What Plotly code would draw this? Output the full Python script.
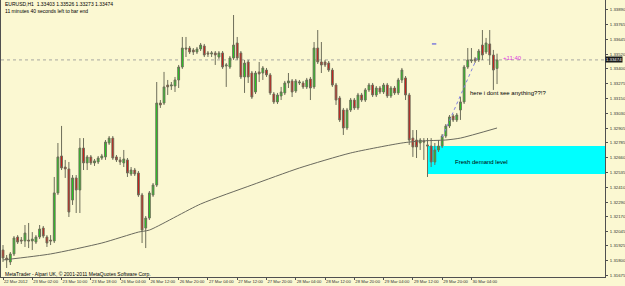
import plotly.graph_objects as go

bars = list(range(136))

opens = [1.31891,1.31824,1.31791,1.31858,1.31999,1.31974,1.31966,1.31974,1.31966,1.31957,
         1.31999,1.32074,1.31999,1.31974,1.31966,1.32366,1.32674,1.32582,1.32566,1.32307,
         1.32491,1.32391,1.32740,1.32616,1.32666,1.32616,1.32624,1.32657,1.32666,1.32782,
         1.32823,1.32666,1.32641,1.32616,1.32641,1.32524,1.32557,1.32532,1.32349,1.32074,
         1.32157,1.32349,1.32432,1.33115,1.33115,1.33265,1.33257,1.33257,1.33307,1.33415,
         1.33573,1.33573,1.33557,1.33540,1.33565,1.33590,1.33532,1.33523,1.33532,1.33498,
         1.33532,1.33423,1.33415,1.33490,1.33615,1.33532,1.33332,1.33457,1.33365,1.33207,
         1.33374,1.33365,1.33390,1.33349,1.33190,1.33124,1.33174,1.33199,1.33282,1.33299,
         1.33215,1.33282,1.33282,1.33249,1.33315,1.33249,1.33573,1.33457,1.33457,1.33448,
         1.33390,1.33265,1.33157,1.33057,1.32907,1.33057,1.33140,1.33074,1.33182,1.33140,
         1.33224,1.33265,1.33182,1.33240,1.33207,1.33265,1.33174,1.33240,1.33199,1.33307,
         1.33324,1.33182,1.32823,1.32807,1.32782,1.32799,1.32766,1.32757,1.32624,1.32724,
         1.32757,1.32840,1.32924,1.33007,1.32974,1.33057,1.33124,1.33415,1.33465,1.33482,
         1.33474,1.33598,1.33540,1.33607,1.33515,1.33403]
highs = [1.31932,1.31849,1.31874,1.32007,1.32015,1.31999,1.32099,1.32116,1.32040,1.32015,
         1.32099,1.32091,1.32015,1.32015,1.32499,1.32782,1.32924,1.32641,1.32624,1.32515,
         1.32515,1.32823,1.32823,1.32682,1.32682,1.32649,1.32674,1.32691,1.32807,1.32840,
         1.32840,1.32682,1.32666,1.32724,1.32657,1.32582,1.32574,1.32549,1.32366,1.32174,
         1.32382,1.32449,1.33290,1.33140,1.33374,1.33307,1.33290,1.33332,1.33432,1.33665,
         1.33665,1.33590,1.33573,1.33582,1.33615,1.33607,1.33548,1.33548,1.33548,1.33548,
         1.33548,1.33448,1.33507,1.33848,1.33665,1.33548,1.33474,1.33474,1.33382,1.33382,
         1.33457,1.33423,1.33407,1.33365,1.33207,1.33199,1.33249,1.33299,1.33365,1.33315,
         1.33315,1.33307,1.33299,1.33324,1.33332,1.33623,1.33723,1.33623,1.33474,1.33465,
         1.33407,1.33282,1.33174,1.33074,1.33074,1.33157,1.33157,1.33199,1.33199,1.33240,
         1.33282,1.33282,1.33257,1.33257,1.33282,1.33282,1.33257,1.33257,1.33324,1.33407,
         1.33340,1.33199,1.32890,1.32890,1.32823,1.32823,1.32823,1.32823,1.32782,1.32807,
         1.32857,1.32940,1.33015,1.33024,1.33032,1.33165,1.33432,1.33573,1.33573,1.33498,
         1.33565,1.33723,1.33657,1.33723,1.33557,1.33526]
lows = [1.31791,1.31741,1.31766,1.31841,1.31941,1.31941,1.31916,1.31907,1.31891,1.31941,
        1.31982,1.31990,1.31916,1.31932,1.31949,1.32349,1.32557,1.32491,1.32166,1.32266,
        1.32199,1.32199,1.32557,1.32557,1.32599,1.32591,1.32607,1.32641,1.32641,1.32766,
        1.32641,1.32624,1.32599,1.32582,1.32499,1.32507,1.32507,1.32333,1.31949,1.31907,
        1.32141,1.32333,1.32416,1.33074,1.33099,1.33182,1.33224,1.33207,1.33240,1.33399,
        1.33498,1.33523,1.33515,1.33523,1.33548,1.33498,1.33498,1.33498,1.33432,1.33482,
        1.33399,1.33249,1.33399,1.33474,1.33474,1.33315,1.33199,1.33282,1.33149,1.33190,
        1.33290,1.33307,1.33332,1.33182,1.33107,1.33107,1.33140,1.33182,1.33240,1.33165,
        1.33199,1.33265,1.33232,1.33232,1.33140,1.33232,1.33440,1.33365,1.33415,1.33374,
        1.33249,1.33099,1.32957,1.32849,1.32890,1.33040,1.33057,1.33057,1.33124,1.33124,
        1.33207,1.33165,1.33165,1.33190,1.33190,1.33157,1.33157,1.33182,1.33182,1.33282,
        1.33140,1.32766,1.32666,1.32657,1.32724,1.32641,1.32499,1.32582,1.32599,1.32707,
        1.32740,1.32823,1.32907,1.32957,1.32957,1.32974,1.33107,1.33399,1.33448,1.33448,
        1.33457,1.33474,1.33523,1.33432,1.33224,1.33273]
closes = [1.31824,1.31808,1.31858,1.31991,1.31957,1.31966,1.32032,1.31966,1.31982,1.31999,
          1.32066,1.32007,1.31949,1.31966,1.32366,1.32666,1.32574,1.32566,1.32207,1.32491,
          1.32391,1.32740,1.32616,1.32666,1.32616,1.32633,1.32657,1.32674,1.32790,1.32823,
          1.32657,1.32641,1.32624,1.32649,1.32532,1.32557,1.32524,1.32349,1.32057,1.32157,
          1.32366,1.32432,1.33115,1.33099,1.33249,1.33249,1.33265,1.33307,1.33415,1.33573,
          1.33565,1.33540,1.33540,1.33565,1.33598,1.33515,1.33523,1.33532,1.33515,1.33532,
          1.33415,1.33432,1.33490,1.33598,1.33490,1.33332,1.33448,1.33332,1.33165,1.33365,
          1.33357,1.33407,1.33349,1.33199,1.33124,1.33182,1.33207,1.33282,1.33299,1.33207,
          1.33299,1.33290,1.33249,1.33307,1.33240,1.33573,1.33457,1.33432,1.33432,1.33390,
          1.33265,1.33140,1.32974,1.32907,1.33057,1.33140,1.33074,1.33182,1.33140,1.33224,
          1.33265,1.33182,1.33240,1.33207,1.33265,1.33174,1.33240,1.33199,1.33307,1.33390,
          1.33182,1.32807,1.32749,1.32749,1.32807,1.32790,1.32757,1.32624,1.32724,1.32757,
          1.32840,1.32924,1.32999,1.32974,1.33015,1.33124,1.33415,1.33474,1.33474,1.33465,
          1.33548,1.33515,1.33615,1.33515,1.33390,1.33474]

ma_bars = [0, 13, 27, 37, 40, 54, 68, 81, 95, 109, 114, 121, 125, 135]
ma_vals = [1.31808, 1.31858, 1.31949, 1.32040, 1.32057, 1.32274, 1.32432, 1.32574,
           1.32699, 1.32782, 1.32799, 1.32807, 1.32823, 1.32907]

x_tick_bars = [0, 8, 16, 24, 32, 40, 48, 56, 64, 72, 80, 88, 96, 104, 112, 120, 128]
x_tick_text = ["22 Mar 2012", "23 Mar 02:00", "23 Mar 10:00", "23 Mar 18:00", "26 Mar 04:00",
               "26 Mar 12:00", "26 Mar 20:00", "27 Mar 04:00", "27 Mar 12:00", "27 Mar 20:00",
               "28 Mar 04:00", "28 Mar 12:00", "28 Mar 20:00", "29 Mar 04:00", "29 Mar 12:00",
               "29 Mar 20:00", "30 Mar 04:00"]
y_tick_vals = [1.33890, 1.33765, 1.33645, 1.33520, 1.33400, 1.33275, 1.33150, 1.33030,
               1.32905, 1.32785, 1.32660, 1.32535, 1.32410, 1.32290, 1.32170, 1.32045,
               1.31925, 1.31800, 1.31675]

demand_low, demand_high, demand_start = 1.32524, 1.32757, 116.1
trend_bars = [120, 129.5]
trend_vals = [1.32830, 1.33490]
dash_bars = [117.2, 118.4]
dash_vals = [1.33607, 1.33607]
last_price = 1.33474

BG = "#FBF8D2"
FONT = "Liberation Sans, Arial, sans-serif"
SMALL = "Liberation Sans Narrow, Liberation Sans, Arial, sans-serif"

fig = go.Figure()
fig.add_trace(go.Candlestick(
    x=bars, open=opens, high=highs, low=lows, close=closes,
    increasing=dict(fillcolor="#16D916", line=dict(color="#6E6E5A", width=1)),
    decreasing=dict(fillcolor="#D91010", line=dict(color="#6E6E5A", width=1)),
    whiskerwidth=0, showlegend=False, hoverinfo="skip"))
fig.add_trace(go.Scatter(x=ma_bars, y=ma_vals, mode="lines", line=dict(color="#6A6A5E", width=1, shape="spline", smoothing=0.6),
                         showlegend=False, hoverinfo="skip"))
fig.add_trace(go.Scatter(x=trend_bars, y=trend_vals, mode="lines", line=dict(color="#8080E0", width=1, dash="dot"),
                         showlegend=False, hoverinfo="skip"))
fig.add_trace(go.Scatter(x=dash_bars, y=dash_vals, mode="lines", line=dict(color="#4040E0", width=1),
                         showlegend=False, hoverinfo="skip"))

fig.add_shape(type="rect", xref="x", yref="y", x0=demand_start, x1=164.5, y0=demand_low, y1=demand_high,
              fillcolor="#00FFFF", line=dict(width=0), layer="below")
fig.add_shape(type="line", xref="paper", yref="y", x0=0, x1=1, y0=last_price, y1=last_price,
              line=dict(color="#A8A8A0", width=1, dash="dot"), layer="below")

fig.add_annotation(x=136.2, y=1.33490, text="+11:40", showarrow=False, xanchor="left", yanchor="middle",
                   font=dict(size=6, color="#E040E0", family=FONT))
fig.add_annotation(x=127, y=1.33199, text="here i dont see anything??!?", showarrow=False, xanchor="left",
                   yanchor="middle", font=dict(size=6, color="#000000", family=FONT))
fig.add_annotation(x=123, y=1.32624, text="Fresh demand level", showarrow=False, xanchor="left",
                   yanchor="middle", font=dict(size=6, color="#000000", family=FONT))
fig.add_annotation(xref="paper", yref="paper", x=0.003, y=0.984, text="EURUSD,H1  1.33403 1.33526 1.33273 1.33474",
                   showarrow=False, xanchor="left", yanchor="middle", font=dict(size=5, color="#000000", family=FONT))
fig.add_annotation(xref="paper", yref="paper", x=0.003, y=0.962, text="11 minutes 40 seconds left to bar end",
                   showarrow=False, xanchor="left", yanchor="middle", font=dict(size=5, color="#000000", family=FONT))
fig.add_annotation(xref="paper", yref="paper", x=0.003, y=0.012,
                   text="MetaTrader - Alpari UK, © 2001-2011 MetaQuotes Software Corp.",
                   showarrow=False, xanchor="left", yanchor="middle", font=dict(size=5, color="#000000", family=FONT))
fig.add_annotation(xref="paper", yref="y", x=1.0, y=last_price, text="1.33474", showarrow=False,
                   xanchor="left", yanchor="middle", bgcolor="#1A1A1A", borderpad=0,
                   font=dict(size=4.3, color="#FFFFFF", family=SMALL))

fig.update_layout(
    width=625, height=286, margin=dict(l=1, r=20, t=0, b=9, autoexpand=False),
    paper_bgcolor=BG, plot_bgcolor=BG, showlegend=False,
    xaxis=dict(range=[-0.55, 164.5], rangeslider=dict(visible=False), tickvals=x_tick_bars, ticktext=x_tick_text,
               ticks="outside", ticklen=2, tickcolor="#505050", showgrid=False, zeroline=False,
               showline=True, linecolor="#505050", mirror=True, ticklabelposition="outside right",
               tickangle=0, automargin=False, ticklabelstandoff=0,
               tickfont=dict(size=4.2, color="#303030", family=SMALL)),
    yaxis=dict(range=[1.31666, 1.33973], side="right", tickvals=y_tick_vals,
               ticktext=[f"{v:.5f}" for v in y_tick_vals], ticks="outside", ticklen=2, tickcolor="#505050",
               showgrid=False, zeroline=False, showline=True, linecolor="#505050", mirror=True,
               automargin=False, ticklabelstandoff=1, tickfont=dict(size=4.3, color="#303030", family=SMALL)),
)

fig.write_html("out.html")
